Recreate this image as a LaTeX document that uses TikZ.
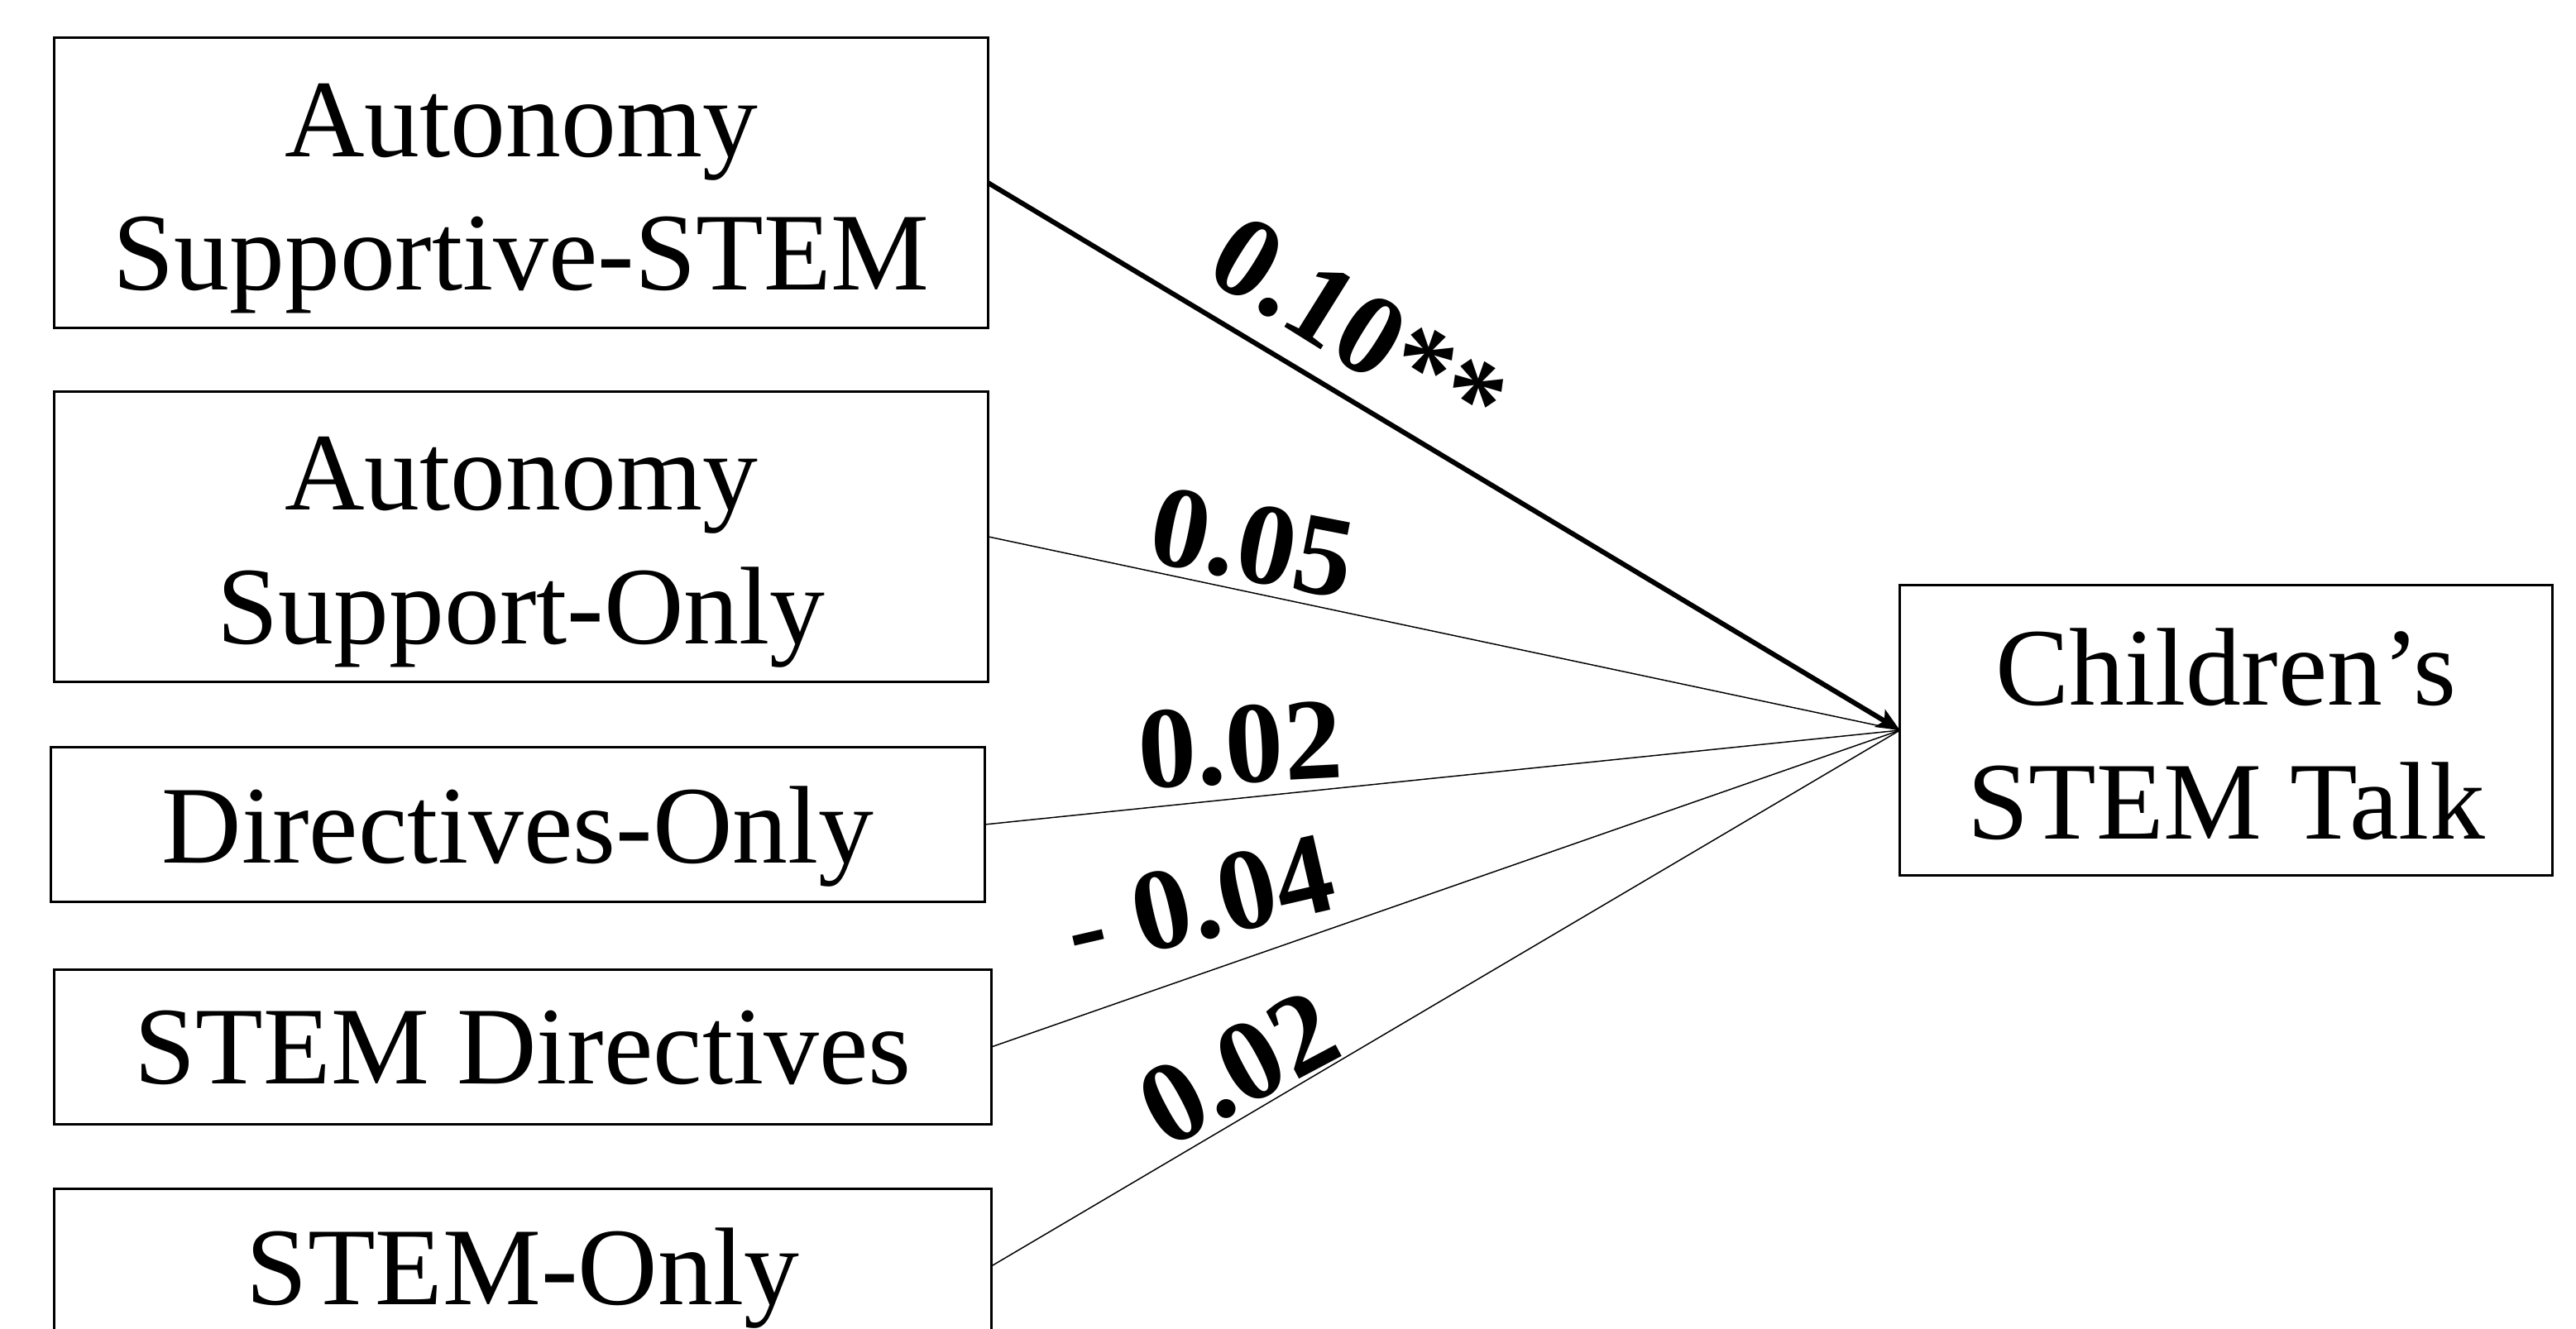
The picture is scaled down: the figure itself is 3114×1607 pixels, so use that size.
\documentclass[tikz,border=0pt]{standalone}
\usepackage{fontspec}
\setmainfont{Liberation Serif}
\usetikzlibrary{arrows.meta}
\newcommand\lowstrut{\rule{0pt}{36pt}}
\begin{document}
\begin{tikzpicture}[x=0.01cm, y=-0.01cm,
  box/.style={draw, line width=0.8pt, inner sep=0pt, outer sep=0pt, align=center,
    font=\fontsize{38}{46}\selectfont},
  onebox/.style={box, text depth=0pt, minimum height=1.87cm},
  twobox/.style={box, minimum height=3.51cm},
  lbl/.style={font=\bfseries\fontsize{40}{48}\selectfont, inner sep=0pt},
  thinlink/.style={line width=0.42pt},
  boldlink/.style={line width=1.7pt, -{Stealth[length=0.28cm, width=0.24cm, inset=0.06cm]}}]
\useasboundingbox (0,0) rectangle (3114,1607);
\node[twobox, minimum width=11.28cm] (ass) at (630,221) {\lowstrut Autonomy\\Supportive-STEM};
\node[twobox, minimum width=11.29cm] (aso) at (630,649) {\lowstrut Autonomy\\Support-Only};
\node[onebox, minimum width=11.28cm] (dir) at (626,997) {Directives-Only};
\node[onebox, minimum width=11.32cm] (sdir) at (632,1266) {STEM Directives};
\node[onebox, minimum width=11.32cm] (sonly) at (632,1531) {STEM-Only};
\node[twobox, minimum width=7.88cm, minimum height=3.50cm] (talk) at (2691,883) {\rule{0pt}{29pt}Children’s\\STEM Talk};
\draw[boldlink] (ass.east) -- (talk.west);
\draw[thinlink] (aso.east) -- (talk.west);
\draw[thinlink] (dir.east) -- (talk.west);
\draw[thinlink] (sdir.east) -- (talk.west);
\draw[thinlink] (sonly.east) -- (talk.west);
\node[lbl, rotate=-32] (l1) at (1642,397) {0.10**};
\node[lbl, rotate=-11] (l2) at (1514,657) {0.05};
\node[lbl, rotate=3] (l3) at (1499,901) {0.02};
\node[lbl, rotate=13] (l4) at (1450,1090) {- 0.04};
\node[lbl, rotate=28] (l5) at (1497,1292) {0.02};
\end{tikzpicture}
\end{document}
